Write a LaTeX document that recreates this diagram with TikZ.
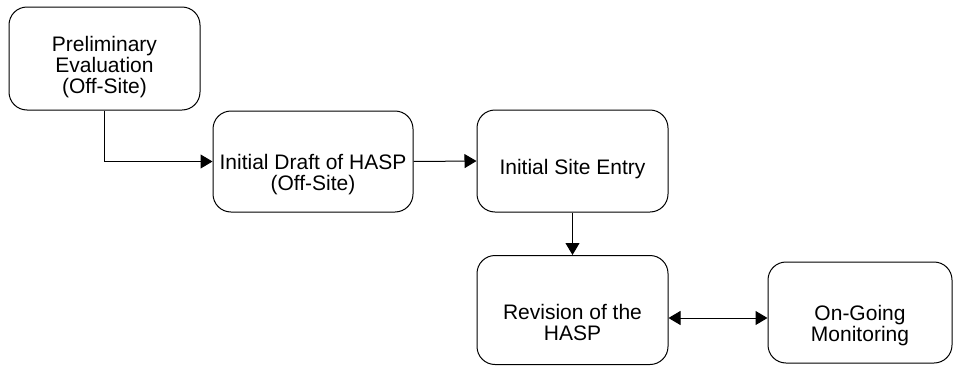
\documentclass[tikz,border=0pt]{standalone}
\usepackage{fontspec}
\setmainfont{Liberation Sans}
\usetikzlibrary{arrows.meta}

\begin{document}
\begin{tikzpicture}[x = 1pt, y = -1pt, line width = 1pt, > = {Triangle[length = 12pt, width = 14pt]},
        stage/.style = {draw, rounded corners = 18pt, minimum width = 191pt, minimum height = 102pt, inner sep = 0pt},
        stagetext/.style = {align = center, inner sep = 0pt, font = \fontsize{21}{21}\selectfont}]
        \useasboundingbox (0,0) rectangle (953,367);
        \node[stage, minimum height = 103pt, label = {[stagetext, yshift = -9pt]center:{Preliminary\\Evaluation\\(Off-Site)}}] (prelim) at (104.5,58.5) {};
        \node[stage, minimum width = 200pt, minimum height = 101pt, label = {[stagetext, yshift = -13.5pt]center:{Initial Draft of HASP\\(Off-Site)}}] (draft) at (313,161.5) {};
        \node[stage, label = {[stagetext, yshift = -8.5pt]center:{Initial Site Entry}}] (entry) at (572.5,161) {};
        \node[stage, minimum height = 109pt, label = {[stagetext, yshift = -12.5pt]center:{Revision of the\\HASP}}] (revision) at (572.5,310) {};
        \node[stage, minimum width = 184pt, minimum height = 101pt, label = {[stagetext, yshift = -13.5pt]center:{On-Going\\Monitoring}}] (monitor) at (860,312.5) {};
        \draw[->] (prelim.south) |- (draft.west);
        \draw[->] (draft.east) -- (entry.west);
        \draw[->] (entry.south) -- (revision.north);
        \draw[<->] ([yshift = -8pt]revision.east) -- ([yshift = -8pt]revision.east -| monitor.west);
\end{tikzpicture}
\end{document}
